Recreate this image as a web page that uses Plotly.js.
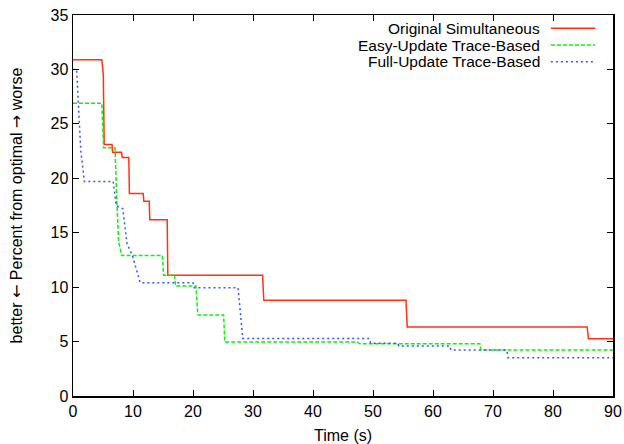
<!DOCTYPE html>
<html>
<head>
<meta charset="utf-8">
<script src="https://cdn.plot.ly/plotly-3.0.1.min.js"></script>
<style>html,body{margin:0;padding:0;background:#fff;}#chart{width:624px;height:444px;}</style>
</head>
<body>
<div id="chart"></div>
<script>
// Series names
const seriesNames = ["Original Simultaneous", "Easy-Update Trace-Based", "Full-Update Trace-Based"];

// Original Simultaneous (vertices)
const origX = [0, 4.8, 5.05, 5.2, 6.5, 6.6, 8.1, 8.2, 9.3, 9.4, 11.7, 11.8, 12.7, 12.8, 15.7, 15.8, 31.6, 31.8, 55.5, 55.7, 85.7, 85.9, 90];
const origY = [30.9, 30.9, 29.5, 23.1, 23.1, 22.4, 22.4, 21.9, 21.9, 18.6, 18.6, 17.9, 17.9, 16.2, 16.2, 11.1, 11.1, 8.8, 8.8, 6.35, 6.35, 5.25, 5.25];

// Easy-Update Trace-Based (vertices)
const easyX = [0, 4.8, 5.1, 7.0, 7.3, 7.6, 8.1, 14.9, 15.1, 16.9, 17.1, 20.5, 20.8, 25.1, 25.3, 47.4, 47.8, 67.8, 68.0, 90];
const easyY = [26.9, 26.9, 22.8, 22.8, 18.0, 14.2, 12.9, 12.9, 11.1, 11.1, 10.1, 10.1, 7.45, 7.45, 4.95, 4.95, 4.8, 4.8, 4.22, 4.22];

// Full-Update Trace-Based (vertices)
const fullX = [0, 0.6, 1.3, 1.9, 6.7, 7.2, 8.3, 9.0, 9.9, 11.2, 20.0, 20.2, 27.5, 28.3, 49.4, 49.6, 54.1, 54.3, 62.8, 63.0, 72.3, 72.5, 90];
const fullY = [30.0, 30.0, 22.5, 19.7, 19.7, 17.5, 17.2, 14.0, 12.9, 10.4, 10.4, 9.95, 9.95, 5.28, 5.28, 4.85, 4.85, 4.6, 4.6, 4.22, 4.22, 3.52, 3.52];

// Tick values
const xTicks = [0, 10, 20, 30, 40, 50, 60, 70, 80, 90];
const yTicks = [0, 5, 10, 15, 20, 25, 30, 35];

const colors = ["#ff3311", "#11ee11", "#3355ff"];
const dashes = ["solid", "4px,2px", "2px,3px"];

const FONT = "Liberation Sans, Arial, Helvetica, sans-serif";

const traces = [
  {x: origX, y: origY, name: seriesNames[0], mode: "lines", line: {color: colors[0], width: 1.5, dash: dashes[0]}},
  {x: easyX, y: easyY, name: seriesNames[1], mode: "lines", line: {color: colors[1], width: 1.5, dash: dashes[1]}},
  {x: fullX, y: fullY, name: seriesNames[2], mode: "lines", line: {color: colors[2], width: 1.5, dash: dashes[2]}}
];

// Gnuplot-style legend: text right-aligned, sample on the right
const legendRowsY = [0.965, 0.921, 0.877];
const annotations = seriesNames.map((n, i) => ({
  xref: "paper", yref: "paper", x: 0.868, y: legendRowsY[i],
  xanchor: "right", yanchor: "middle", text: n, showarrow: false,
  font: {family: FONT, size: 15.5, color: "#000"}
}));
const shapes = seriesNames.map((n, i) => ({
  type: "line", xref: "paper", yref: "paper",
  x0: 0.885, x1: 0.967, y0: legendRowsY[i], y1: legendRowsY[i],
  line: {color: colors[i], width: 1.5, dash: dashes[i]}
}));

const axisCommon = {
  showline: true, linecolor: "#000", linewidth: 1.5, mirror: "allticks",
  ticks: "inside", ticklen: 6, tickwidth: 1, tickcolor: "#000",
  showgrid: false, zeroline: false, fixedrange: true,
  tickfont: {family: FONT, size: 16, color: "#000"}
};

const arrow = s => '<span style="font-family:DejaVu Sans">' + s + '</span>';

const layout = {
  width: 624, height: 444,
  margin: {l: 73, r: 11, t: 15, b: 48},
  paper_bgcolor: "#fff", plot_bgcolor: "#fff",
  showlegend: false,
  font: {family: FONT, size: 16, color: "#000"},
  xaxis: Object.assign({}, axisCommon, {
    range: [0, 90], tickvals: xTicks, ticktext: xTicks.map(String),
    title: {text: "Time (s)", font: {family: FONT, size: 16, color: "#000"}, standoff: 11}
  }),
  yaxis: Object.assign({}, axisCommon, {
    range: [0, 35], tickvals: yTicks, ticktext: yTicks.map(String),
    title: {text: "better " + arrow("\u2190") + " Percent from optimal " + arrow("\u2192") + " worse", font: {family: FONT, size: 16, color: "#000"}, standoff: 24}
  }),
  annotations: annotations,
  shapes: shapes
};

Plotly.newPlot("chart", traces, layout, {staticPlot: true, displayModeBar: false});
</script>
</body>
</html>
